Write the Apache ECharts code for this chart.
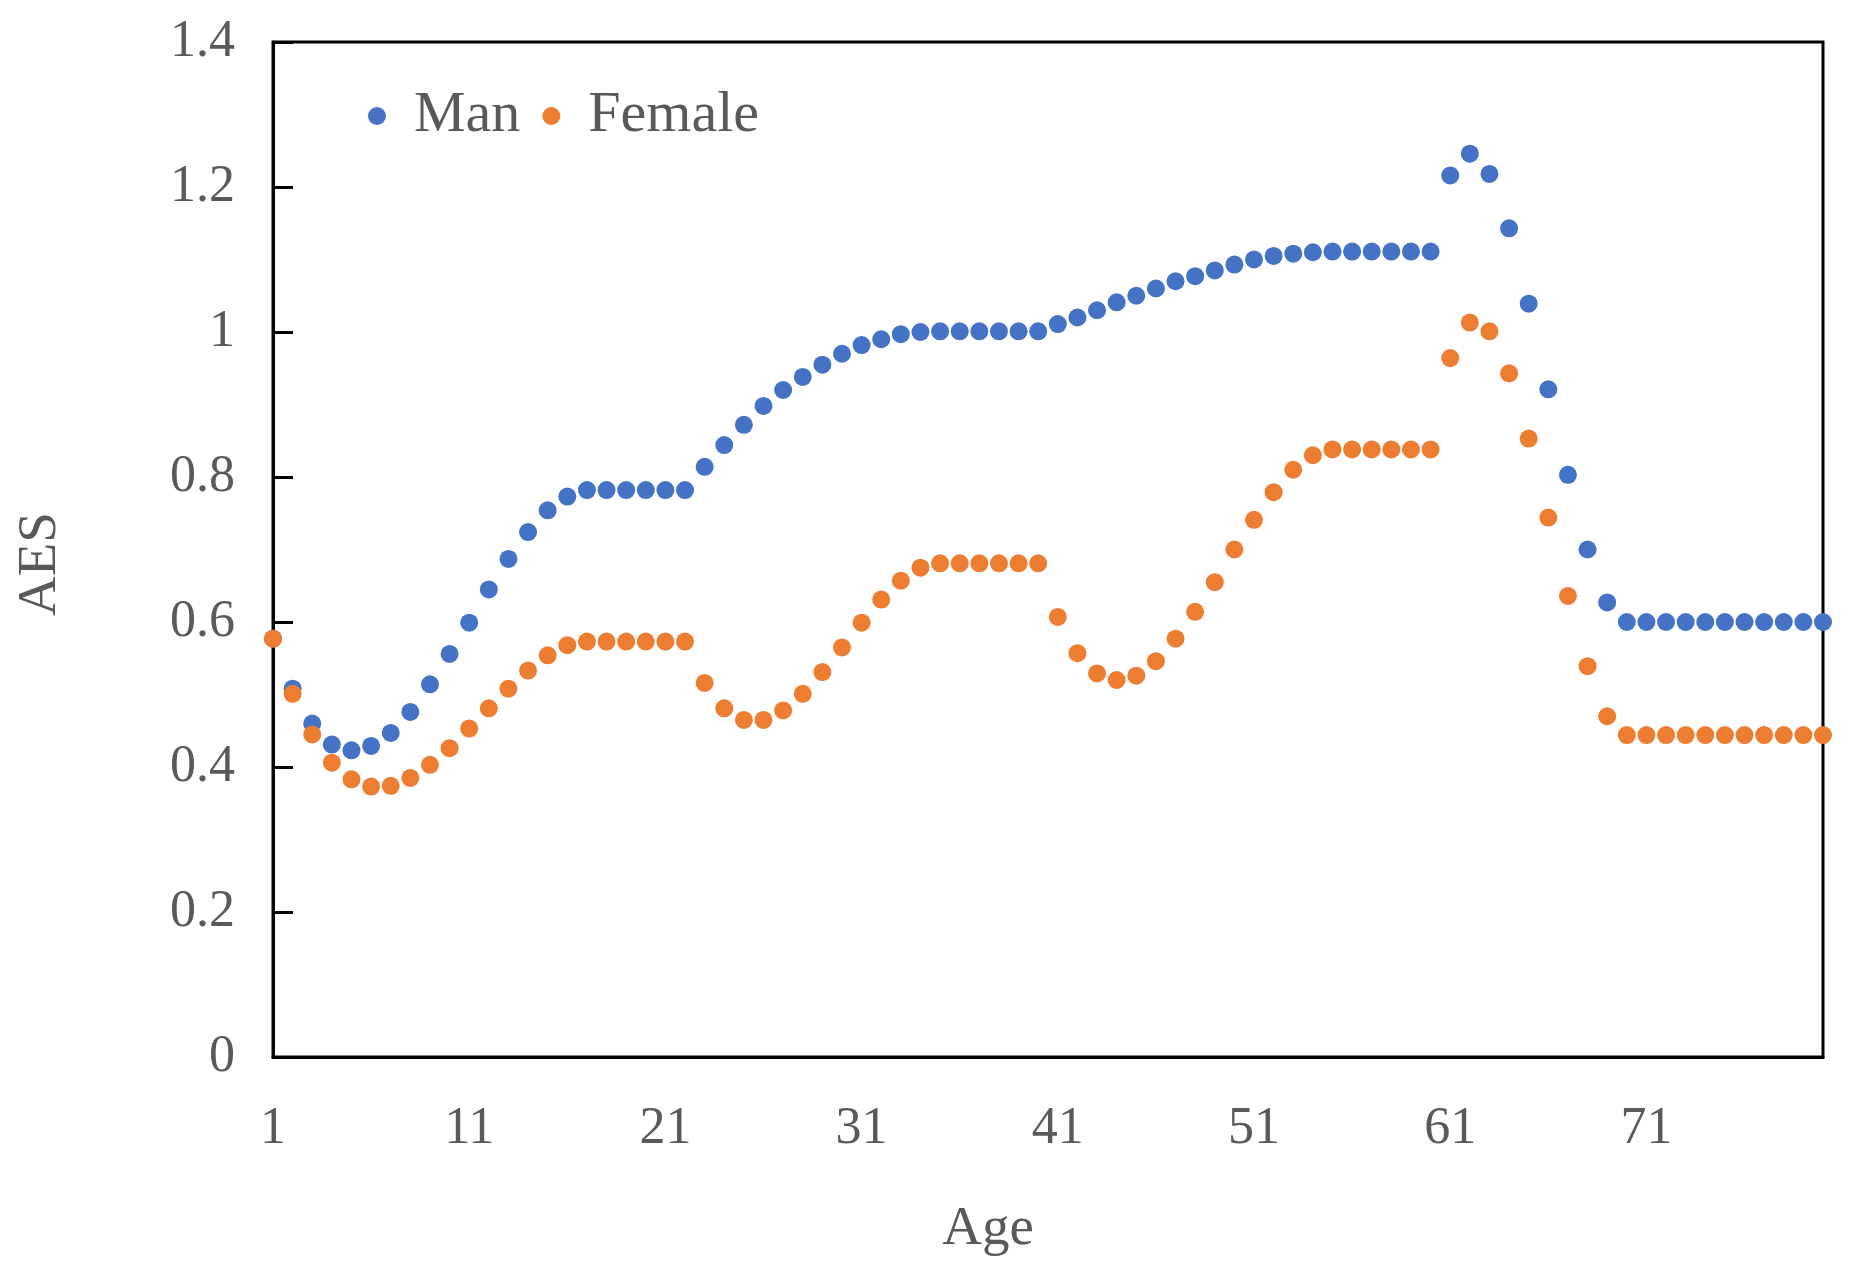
<!DOCTYPE html>
<html>
<head>
<meta charset="utf-8">
<script src="https://cdn.jsdelivr.net/npm/echarts@6/dist/echarts.min.js"></script>
<style>
html,body{margin:0;padding:0;background:#fff;}
#chart{width:1850px;height:1276px;}
</style>
</head>
<body>
<div id="chart"></div>
<script>
// Ages 1..80
const ages = [];
for (let a = 1; a <= 80; a++) ages.push(String(a));

const manValues = [
  0.577, 0.508, 0.460, 0.431, 0.423, 0.429, 0.447, 0.476, 0.514, 0.556,
  0.599, 0.645, 0.687, 0.724, 0.754, 0.773, 0.782, 0.782, 0.782, 0.782,
  0.782, 0.782, 0.814, 0.844, 0.872, 0.898, 0.920, 0.938, 0.955, 0.970,
  0.982, 0.990, 0.997, 1.000, 1.001, 1.001, 1.001, 1.001, 1.001, 1.001,
  1.011, 1.020, 1.030, 1.041, 1.050, 1.060, 1.070, 1.077, 1.085, 1.093,
  1.100, 1.105, 1.108, 1.110, 1.111, 1.111, 1.111, 1.111, 1.111, 1.111,
  1.216, 1.246, 1.218, 1.143, 1.039, 0.921, 0.803, 0.700, 0.627, 0.600,
  0.600, 0.600, 0.600, 0.600, 0.600, 0.600, 0.600, 0.600, 0.600, 0.600
];

const femaleValues = [
  0.577, 0.501, 0.445, 0.406, 0.383, 0.373, 0.374, 0.385, 0.403, 0.426,
  0.453, 0.481, 0.508, 0.533, 0.554, 0.568, 0.573, 0.573, 0.573, 0.573,
  0.573, 0.573, 0.516, 0.481, 0.465, 0.465, 0.478, 0.501, 0.531, 0.565,
  0.599, 0.631, 0.657, 0.675, 0.681, 0.681, 0.681, 0.681, 0.681, 0.681,
  0.607, 0.557, 0.529, 0.520, 0.526, 0.546, 0.577, 0.614, 0.655, 0.700,
  0.741, 0.779, 0.810, 0.830, 0.838, 0.838, 0.838, 0.838, 0.838, 0.838,
  0.964, 1.013, 1.001, 0.943, 0.853, 0.744, 0.636, 0.539, 0.470, 0.444,
  0.444, 0.444, 0.444, 0.444, 0.444, 0.444, 0.444, 0.444, 0.444, 0.444
];

const seriesNames = ['Man', 'Female'];
const seriesColors = ['#4472C4', '#ED7D31'];

const FONT = '"Liberation Serif", "Times New Roman", serif';
const TXT = '#595959';

const chart = echarts.init(document.getElementById('chart'), null, {renderer: 'canvas'});
chart.setOption({
  animation: false,
  backgroundColor: '#ffffff',
  grid: {
    left: 273, right: 27, top: 42, bottom: 219,
    show: true, borderColor: '#000', borderWidth: 3, backgroundColor: 'transparent'
  },
  legend: {
    data: seriesNames,
    left: 363, top: 82,
    orient: 'horizontal',
    icon: 'circle',
    itemWidth: 64, itemHeight: 18,
    itemGap: 22,
    textStyle: {fontFamily: FONT, fontSize: 58, color: TXT}
  },
  xAxis: {
    type: 'category',
    data: ages,
    boundaryGap: false,
    axisLine: {lineStyle: {color: '#000', width: 3}},
    axisTick: {show: false},
    axisLabel: {interval: 9, margin: 46, fontFamily: FONT, fontSize: 52, color: TXT},
    splitLine: {show: false},
    name: 'Age',
    nameLocation: 'middle',
    nameGap: 145,
    nameTextStyle: {fontFamily: FONT, fontSize: 55, color: TXT, padding: [0, 120, 0, 0]}
  },
  yAxis: {
    type: 'value',
    min: 0, max: 1.4, interval: 0.2,
    axisLine: {show: true, lineStyle: {color: '#000', width: 3}},
    axisTick: {show: true, inside: true, length: 20, lineStyle: {color: '#000', width: 3}},
    axisLabel: {margin: 38, fontFamily: FONT, fontSize: 52, color: TXT},
    splitLine: {show: false},
    name: 'AES',
    nameLocation: 'middle',
    nameRotate: 90,
    nameGap: 205,
    nameTextStyle: {fontFamily: FONT, fontSize: 55, color: TXT, padding: [0, 29, 0, 0]}
  },
  series: [
    {
      name: seriesNames[0], type: 'scatter', data: manValues,
      symbol: 'circle', symbolSize: 18,
      itemStyle: {color: seriesColors[0], opacity: 1}
    },
    {
      name: seriesNames[1], type: 'scatter', data: femaleValues,
      symbol: 'circle', symbolSize: 18,
      itemStyle: {color: seriesColors[1], opacity: 1}
    }
  ]
});
</script>
</body>
</html>
